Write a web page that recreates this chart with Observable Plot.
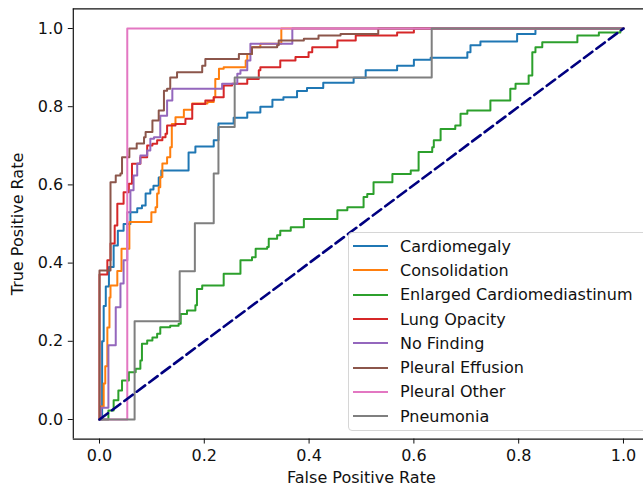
<!DOCTYPE html>
<html><head><meta charset="utf-8">
<script src="https://cdn.jsdelivr.net/npm/d3@7"></script>
<script src="https://cdn.jsdelivr.net/npm/@observablehq/plot@0.6"></script>
<style>
body{margin:0;background:#fff;overflow:hidden;}
#wrap{position:relative;width:643px;height:489px;font-family:"DejaVu Sans",sans-serif;overflow:hidden;}
#legend{position:absolute;left:348px;top:232px;width:305px;height:199px;box-sizing:border-box;border:1px solid #d6d6d6;border-radius:4px;background:rgba(255,255,255,0.8);padding-top:1px;}
.row{display:flex;align-items:center;height:24.3px;font-size:16px;color:#111;white-space:nowrap;}
.sw{width:35px;height:0;border-top:2px solid;margin-left:4px;margin-right:12px;flex:none;}
</style></head><body><div id="wrap"></div>
<script>
const series = ["Cardiomegaly","Consolidation","Enlarged Cardiomediastinum","Lung Opacity","No Finding","Pleural Effusion","Pleural Other","Pneumonia"];
const colors = ["#1f77b4","#ff7f0e","#2ca02c","#d62728","#9467bd","#8c564b","#e377c2","#7f7f7f"];
const xTicks = [0, 0.2, 0.4, 0.6, 0.8, 1.0];
const yTicks = [0, 0.2, 0.4, 0.6, 0.8, 1.0];

const cardiomegalyFpr = [0,0.005,0.008,0.012,0.018,0.027,0.035,0.046,0.059,0.072,0.081,0.088,0.097,0.103,0.113,0.118,0.17,0.183,0.218,0.227,0.256,0.282,0.307,0.33,0.351,0.377,0.396,0.427,0.485,0.508,0.568,0.6,0.632,0.702,0.708,0.727,0.797,0.832,1];
const cardiomegalyTpr = [0,0.2,0.29,0.34,0.39,0.445,0.483,0.5,0.53,0.54,0.547,0.578,0.588,0.598,0.619,0.637,0.683,0.698,0.714,0.757,0.772,0.785,0.8,0.818,0.824,0.84,0.848,0.861,0.874,0.893,0.905,0.92,0.925,0.939,0.957,0.967,0.986,1,1];

const consolidationFpr = [0,0.002,0.008,0.011,0.015,0.019,0.021,0.034,0.042,0.057,0.099,0.107,0.11,0.113,0.116,0.12,0.129,0.135,0.138,0.145,0.161,0.177,0.206,0.218,0.221,0.228,0.237,0.279,0.282,0.291,0.307,0.347,1];
const consolidationTpr = [0,0.033,0.092,0.136,0.235,0.312,0.343,0.38,0.437,0.505,0.53,0.543,0.578,0.594,0.62,0.655,0.671,0.696,0.756,0.773,0.792,0.808,0.812,0.824,0.871,0.897,0.901,0.918,0.935,0.952,0.961,1,1];

const enlargedFpr = [0,0.017,0.027,0.036,0.043,0.056,0.069,0.078,0.081,0.091,0.101,0.11,0.116,0.135,0.151,0.155,0.167,0.183,0.186,0.196,0.237,0.269,0.291,0.298,0.32,0.323,0.339,0.345,0.365,0.39,0.454,0.473,0.504,0.511,0.523,0.559,0.594,0.609,0.635,0.638,0.651,0.679,0.689,0.702,0.746,0.784,0.794,0.819,0.826,0.832,0.845,0.912,0.953,0.994,1];
const enlargedTpr = [0,0.023,0.049,0.074,0.1,0.121,0.13,0.151,0.194,0.202,0.21,0.219,0.236,0.24,0.245,0.27,0.279,0.292,0.334,0.343,0.373,0.407,0.415,0.437,0.441,0.462,0.471,0.483,0.492,0.513,0.535,0.543,0.569,0.577,0.607,0.628,0.637,0.684,0.696,0.714,0.743,0.752,0.782,0.79,0.816,0.846,0.859,0.88,0.939,0.952,0.965,0.982,0.99,1,1];

const lungOpacityFpr = [0,0,0.015,0.021,0.029,0.034,0.046,0.056,0.062,0.078,0.091,0.101,0.11,0.12,0.126,0.129,0.145,0.164,0.177,0.202,0.218,0.237,0.253,0.282,0.304,0.307,0.345,0.374,0.399,0.406,0.454,0.489,0.568,0.6,1];
const lungOpacityTpr = [0,0.371,0.407,0.45,0.496,0.552,0.581,0.603,0.654,0.671,0.701,0.705,0.714,0.722,0.731,0.752,0.756,0.769,0.807,0.816,0.824,0.854,0.859,0.871,0.893,0.901,0.918,0.927,0.939,0.952,0.969,0.982,0.99,1,1];

const noFindingFpr = [0,0.003,0.017,0.031,0.04,0.046,0.053,0.059,0.065,0.072,0.078,0.091,0.097,0.104,0.116,0.129,0.139,0.234,0.263,0.269,0.282,0.288,0.368,1];
const noFindingTpr = [0,0.03,0.19,0.287,0.348,0.407,0.53,0.586,0.624,0.655,0.675,0.688,0.718,0.722,0.777,0.816,0.846,0.859,0.884,0.893,0.918,0.961,1,1];

const effusionFpr = [0,0,0.021,0.031,0.04,0.043,0.057,0.071,0.085,0.088,0.101,0.113,0.123,0.129,0.135,0.148,0.196,0.202,0.266,0.291,0.339,0.342,0.39,0.418,0.46,0.532,1];
const effusionTpr = [0,0.381,0.607,0.624,0.629,0.671,0.693,0.706,0.722,0.735,0.765,0.79,0.841,0.846,0.875,0.888,0.905,0.922,0.935,0.952,0.957,0.969,0.974,0.982,0.986,1,1];

const pleuralOtherFpr = [0,0.053,1];
const pleuralOtherTpr = [0,1,1];

const pneumoniaFpr = [0,0.067,0.153,0.182,0.218,0.227,0.258,0.634,1];
const pneumoniaTpr = [0,0.251,0.379,0.502,0.629,0.748,0.875,1,1];

const diagFpr = [0,1];
const diagTpr = [0,1];

const xDomain = [-0.05, 1.0382];
const yDomain = [-0.05, 1.05];

const pairs = [
  [cardiomegalyFpr, cardiomegalyTpr],
  [consolidationFpr, consolidationTpr],
  [enlargedFpr, enlargedTpr],
  [lungOpacityFpr, lungOpacityTpr],
  [noFindingFpr, noFindingTpr],
  [effusionFpr, effusionTpr],
  [pleuralOtherFpr, pleuralOtherTpr],
  [pneumoniaFpr, pneumoniaTpr]
];
const rows = [];
pairs.forEach(([f, t], i) => f.forEach((v, j) => rows.push({series: series[i], fpr: v, tpr: t[j]})));
const diag = diagFpr.map((v, i) => ({fpr: v, tpr: diagTpr[i]}));

const chart = Plot.plot({
  width: 643, height: 489,
  marginLeft: 72.8, marginRight: 0, marginTop: 8.45, marginBottom: 50.45,
  style: {fontFamily: "DejaVu Sans", fontSize: "16px", color: "#111", background: "#fff"},
  x: {domain: xDomain},
  y: {domain: yDomain},
  color: {domain: series, range: colors},
  marks: [
    Plot.line(rows, {x: "fpr", y: "tpr", z: "series", stroke: "series", curve: "step-after", strokeWidth: 2}),
    Plot.line(diag, {x: "fpr", y: "tpr", stroke: "#000080", strokeWidth: 2.6, strokeDasharray: "10.5,5"}),
    Plot.ruleX([xDomain[0]], {stroke: "#111", strokeWidth: 1.2}),
    Plot.ruleY(yDomain, {stroke: "#111", strokeWidth: 1.2}),
    Plot.axisX({ticks: xTicks, tickFormat: d3.format(".1f"), tickSize: 5, tickPadding: 6, label: null, fontSize: 16}),
    Plot.axisY({ticks: yTicks, tickFormat: d3.format(".1f"), tickSize: 5, tickPadding: 5, label: null, fontSize: 16}),
    Plot.text(["False Positive Rate"], {frameAnchor: "bottom", dy: 44, dx: 3, fontSize: 16, fill: "#111"}),
    Plot.text(["True Positive Rate"], {frameAnchor: "left", dx: -55, rotate: -90, textAnchor: "middle", fontSize: 16, fill: "#111"})
  ]
});
const wrap = document.getElementById("wrap");
wrap.appendChild(chart);

const legend = document.createElement("div");
legend.id = "legend";
series.forEach((s, i) => {
  const row = document.createElement("div");
  row.className = "row";
  const sw = document.createElement("span");
  sw.className = "sw";
  sw.style.borderTopColor = colors[i];
  const lab = document.createElement("span");
  lab.textContent = s;
  row.appendChild(sw);
  row.appendChild(lab);
  legend.appendChild(row);
});
wrap.appendChild(legend);
</script></body></html>
